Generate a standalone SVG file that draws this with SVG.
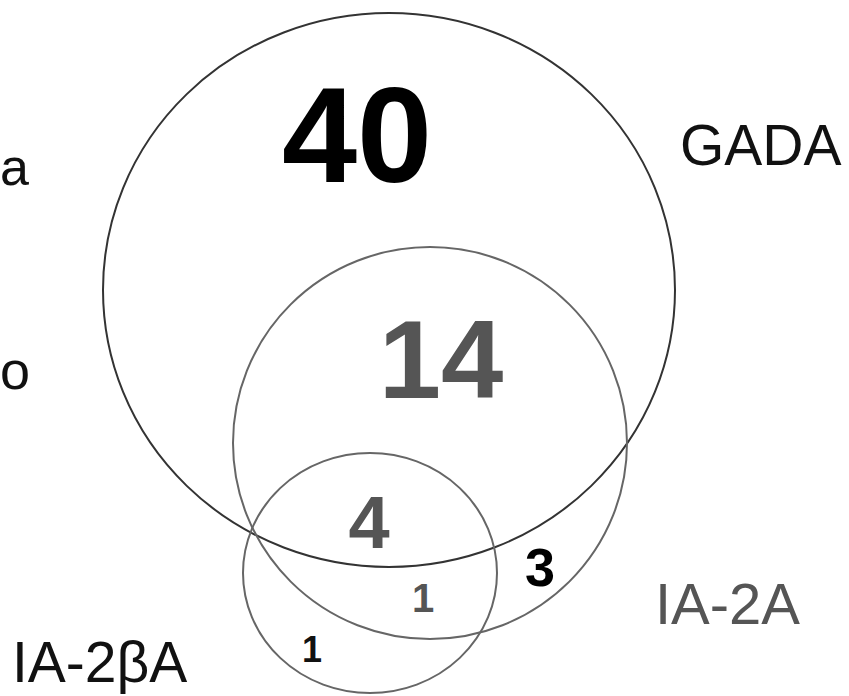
<svg xmlns="http://www.w3.org/2000/svg" width="849" height="696" viewBox="0 0 849 696">
<style>
.t{font-family:"Liberation Sans",Arial,sans-serif}
.b{font-weight:bold;text-anchor:middle}
.c{fill:none;stroke-width:2}
</style>
<rect width="849" height="696" fill="#fff"/>
<g id="gada">
<ellipse class="c" cx="389" cy="290" rx="286" ry="277" stroke="#333"/>
<text class="t" x="680" y="165" font-size="57" fill="#111">GADA</text>
</g>
<g id="ia2a">
<ellipse class="c" cx="430" cy="443" rx="197" ry="196" stroke="#666"/>
<text class="t" x="655" y="624" font-size="58" fill="#555">IA-2A</text>
</g>
<g id="ia2ba">
<ellipse class="c" cx="370" cy="573" rx="127" ry="120" stroke="#666"/>
<text class="t" x="12" y="682" font-size="57" fill="#111">IA-2βA</text>
</g>
<g id="counts">
<text class="t b" x="357" y="182" font-size="135" fill="#000">40</text>
<text class="t b" x="441" y="398" font-size="112" fill="#555">14</text>
<text class="t b" x="369" y="548" font-size="74" fill="#555">4</text>
<text class="t b" x="423" y="612" font-size="40" fill="#555">1</text>
<text class="t b" x="312" y="662" font-size="36" fill="#111">1</text>
<text class="t b" x="540" y="586" font-size="54" fill="#000">3</text>
</g>
<g id="left-labels">
<text class="t" x="29" y="185" font-size="52" fill="#111" text-anchor="end">a</text>
<text class="t" x="0" y="389" font-size="54" fill="#111">o</text>
</g>
<g id="connectors"></g>
</svg>
